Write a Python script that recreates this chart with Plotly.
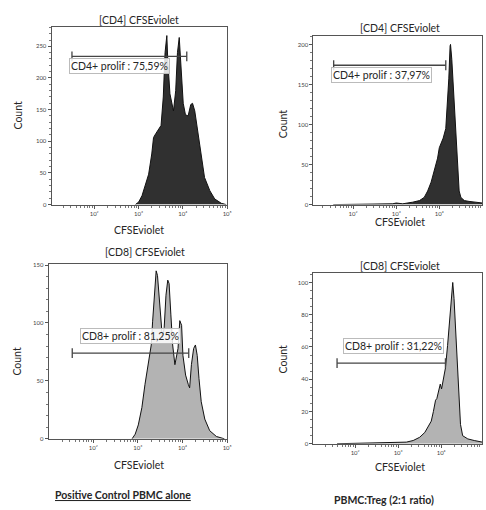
import plotly.graph_objects as go

# ---------------- data (log10 of CFSEviolet intensity, counts) ----------------
cd4_ctrl_log = [2.93, 3.005, 3.08, 3.15, 3.23, 3.30, 3.34, 3.39, 3.45, 3.51, 3.56, 3.60, 3.64, 3.66,
                3.71, 3.75, 3.79, 3.84, 3.88, 3.92, 3.96, 4.01, 4.06, 4.12, 4.18, 4.22, 4.27, 4.35,
                4.42, 4.49, 4.61, 4.72, 4.87, 4.98]
cd4_ctrl_cnt = [0, 4, 14, 30, 48, 80, 106, 112, 118, 125, 170, 240, 267, 230,
                175, 159, 148, 180, 240, 264, 210, 160, 142, 140, 158, 160, 148, 111,
                75, 43, 22, 9, 2, 0]

cd4_treg_log = [1.54, 2.92, 3.00, 3.15, 3.38, 3.54, 3.65, 3.73, 3.81, 3.88, 3.96, 4.00, 4.04, 4.09,
                4.15, 4.19, 4.22, 4.25, 4.26, 4.29, 4.32, 4.37, 4.40, 4.43, 4.46, 4.50, 4.58, 4.69,
                4.85, 5.00]
cd4_treg_cnt = [0, 1, 2, 1, 3, 5, 9, 17, 28, 42, 58, 71, 77, 83,
                95, 128, 157, 198, 200, 181, 149, 108, 71, 38, 17, 9, 5, 4,
                3, 2]

cd8_ctrl_log = [2.87, 2.94, 3.01, 3.09, 3.16, 3.24, 3.30, 3.33, 3.37, 3.41, 3.44, 3.47, 3.52, 3.55,
                3.59, 3.63, 3.67, 3.70, 3.74, 3.78, 3.83, 3.90, 3.94, 3.98, 4.01, 4.07, 4.13, 4.16,
                4.20, 4.25, 4.29, 4.33, 4.37, 4.42, 4.50, 4.61, 4.76, 4.94]
cd8_ctrl_cnt = [0, 4, 12, 27, 47, 67, 81, 101, 127, 145, 141, 124, 99, 87,
                96, 124, 137, 134, 107, 81, 64, 78, 102, 98, 72, 55, 47, 44,
                64, 78, 81, 72, 52, 32, 17, 7, 2, 0]

cd8_treg_log = [1.58, 2.88, 3.19, 3.35, 3.50, 3.62, 3.69, 3.77, 3.82, 3.87, 3.90, 3.95, 3.98, 4.01,
                4.05, 4.10, 4.15, 4.19, 4.23, 4.27, 4.30, 4.33, 4.37, 4.41, 4.45, 4.50, 4.62, 4.77,
                4.96]
cd8_treg_cnt = [0, 1, 1, 2, 4, 7, 10, 14, 20, 27, 28, 34, 37, 34,
                41, 47, 61, 75, 92, 100, 90, 73, 49, 28, 12, 5, 3, 2,
                1]

# gates: [low log, high log, count level]
gate_cd4_ctrl = [1.50, 4.09, 234]
gate_cd4_treg = [1.55, 4.15, 174]
gate_cd8_ctrl = [1.53, 4.14, 74]
gate_cd8_treg = [1.58, 4.10, 50]

gate_labels = ["CD4+ prolif : 75,59%", "CD4+ prolif : 37,97%",
               "CD8+ prolif : 81,25%", "CD8+ prolif : 31,22%"]
panel_titles = ["[CD4] CFSEviolet", "[CD4] CFSEviolet", "[CD8] CFSEviolet", "[CD8] CFSEviolet"]
x_tick_vals = [100, 1000, 10000, 100000]
x_tick_text = ["10²", "10³", "10⁴", "10⁵"]
captions = ["<u>Positive Control PBMC alone</u>", "PBMC:Treg (2:1 ratio)"]

# ---------------- figure ----------------
W, H = 486, 510
FONT = "Lato, 'Open Sans', sans-serif"
TXT = "#262626"

def px(x):
    return x / W

def py(y):
    return 1 - y / H

panels = [
    dict(log=cd4_ctrl_log, cnt=cd4_ctrl_cnt, gate=gate_cd4_ctrl, fill="#303030",
         xdom=[px(52), px(229)], ydom=[py(204), py(24)], xr=[1.04, 5.0], yr=[0, 281],
         ymaj=[0, 50, 100, 150, 200, 250], ymin=10, lab_dx=0),
    dict(log=cd4_treg_log, cnt=cd4_treg_cnt, gate=gate_cd4_treg, fill="#303030",
         xdom=[px(316), 1.0], ydom=[py(204), py(33)], xr=[1.08, 4.99], yr=[0, 211],
         ymaj=[0, 50, 100, 150, 200], ymin=10, lab_dx=0),
    dict(log=cd8_ctrl_log, cnt=cd8_ctrl_cnt, gate=gate_cd8_ctrl, fill="#b3b3b3",
         xdom=[px(49), px(229)], ydom=[py(441), py(264)], xr=[1.0, 5.0], yr=[0, 151],
         ymaj=[0, 50, 100, 150], ymin=10, lab_dx=0.0),
    dict(log=cd8_treg_log, cnt=cd8_treg_cnt, gate=gate_cd8_treg, fill="#b3b3b3",
         xdom=[px(316), 1.0], ydom=[py(446), py(273)], xr=[1.03, 4.95], yr=[0, 106],
         ymaj=[0, 20, 40, 60, 80, 100], ymin=5, lab_dx=0.05),
]

minor_x = [k * 10 ** n for n in range(1, 5) for k in range(2, 10)]

fig = go.Figure()
layout = dict(width=W, height=H, autosize=False, margin=dict(l=0, r=0, t=0, b=0),
              paper_bgcolor="white", plot_bgcolor="white", showlegend=False,
              font=dict(family=FONT, color=TXT))
annotations = []

for i, p in enumerate(panels):
    n = "" if i == 0 else str(i + 1)
    xa, ya = "x" + n, "y" + n
    xs = [10 ** v for v in p["log"]]
    fig.add_trace(go.Scatter(x=xs, y=p["cnt"], mode="lines", fill="tozeroy",
                             fillcolor=p["fill"], line=dict(color="#111", width=1),
                             xaxis=xa, yaxis=ya, hoverinfo="skip"))
    g = p["gate"]
    fig.add_trace(go.Scatter(x=[10 ** g[0], 10 ** g[1]], y=[g[2], g[2]], mode="lines+markers",
                             line=dict(color="#444", width=1.3),
                             marker=dict(symbol="line-ns", size=7, line=dict(color="#444", width=1.3)),
                             xaxis=xa, yaxis=ya, hoverinfo="skip"))
    layout["xaxis" + n] = dict(domain=p["xdom"], anchor=ya, type="log", range=p["xr"],
                               tickmode="array", tickvals=x_tick_vals, ticktext=x_tick_text,
                               ticks="outside", ticklen=3, tickcolor="#555",
                               tickfont=dict(size=6, color="#444", family=FONT),
                               minor=dict(tickmode="array", tickvals=minor_x, ticks="outside",
                                          ticklen=2, tickcolor="#777"),
                               showline=True, linecolor="#555", linewidth=1, mirror=True,
                               showgrid=False, zeroline=False)
    layout["yaxis" + n] = dict(domain=p["ydom"], anchor=xa, range=p["yr"],
                               tickmode="array", tickvals=p["ymaj"],
                               ticks="outside", ticklen=3, tickcolor="#555",
                               tickfont=dict(size=6, color="#444", family=FONT),
                               minor=dict(dtick=p["ymin"], ticks="outside", ticklen=2, tickcolor="#777"),
                               showline=True, linecolor="#555", linewidth=1, mirror=True,
                               showgrid=False, zeroline=False)
    # annotation x on a log axis is given in log10 units
    if i < 2:
        annotations.append(dict(x=g[0], y=g[2], xref=xa, yref=ya, text=gate_labels[i],
                                showarrow=False, xanchor="left", yanchor="top", xshift=-3, yshift=-2,
                                font=dict(size=10.5, color=TXT, family=FONT),
                                bgcolor="rgba(255,255,255,0.85)", bordercolor="#bbb",
                                borderwidth=1, borderpad=1))
    else:
        annotations.append(dict(x=(g[0] + g[1]) / 2 + p["lab_dx"], y=g[2], xref=xa, yref=ya,
                                text=gate_labels[i], showarrow=False, xanchor="center",
                                yanchor="bottom", yshift=9,
                                font=dict(size=10.5, color=TXT, family=FONT),
                                bgcolor="rgba(255,255,255,0.85)", bordercolor="#bbb",
                                borderwidth=1, borderpad=1))

title_pos = [(140, 17), (403, 25), (146, 252), (403, 266)]
xt_pos = [(140, 230), (403, 222), (140, 467), (403, 470)]
yt_pos = [(18, 113), (285, 122), (17, 362), (285, 360)]
for i in range(4):
    annotations.append(dict(x=px(title_pos[i][0]), y=py(title_pos[i][1]), xref="paper", yref="paper",
                            text=panel_titles[i], showarrow=False, xanchor="center", yanchor="middle",
                            font=dict(size=10.5, color=TXT, family=FONT)))
    annotations.append(dict(x=px(xt_pos[i][0]), y=py(xt_pos[i][1]), xref="paper", yref="paper",
                            text="CFSEviolet", showarrow=False, xanchor="center", yanchor="middle",
                            font=dict(size=10.5, color=TXT, family=FONT)))
    annotations.append(dict(x=px(yt_pos[i][0]), y=py(yt_pos[i][1]), xref="paper", yref="paper",
                            text="Count", showarrow=False, textangle=-90, xanchor="center",
                            yanchor="middle", font=dict(size=10.5, color=TXT, family=FONT)))

annotations.append(dict(x=px(124), y=py(498), xref="paper", yref="paper", text="<b>" + captions[0] + "</b>",
                        showarrow=False, xanchor="center", yanchor="middle",
                        font=dict(size=10.5, color=TXT, family=FONT)))
annotations.append(dict(x=px(387), y=py(503), xref="paper", yref="paper", text="<b>" + captions[1] + "</b>",
                        showarrow=False, xanchor="center", yanchor="middle",
                        font=dict(size=10.5, color=TXT, family=FONT)))

layout["annotations"] = annotations
fig.update_layout(**layout)
fig.write_html("out.html", config={"displayModeBar": False, "staticPlot": True},
               post_script="document.body.style.margin='0';document.body.style.overflow='hidden';")
